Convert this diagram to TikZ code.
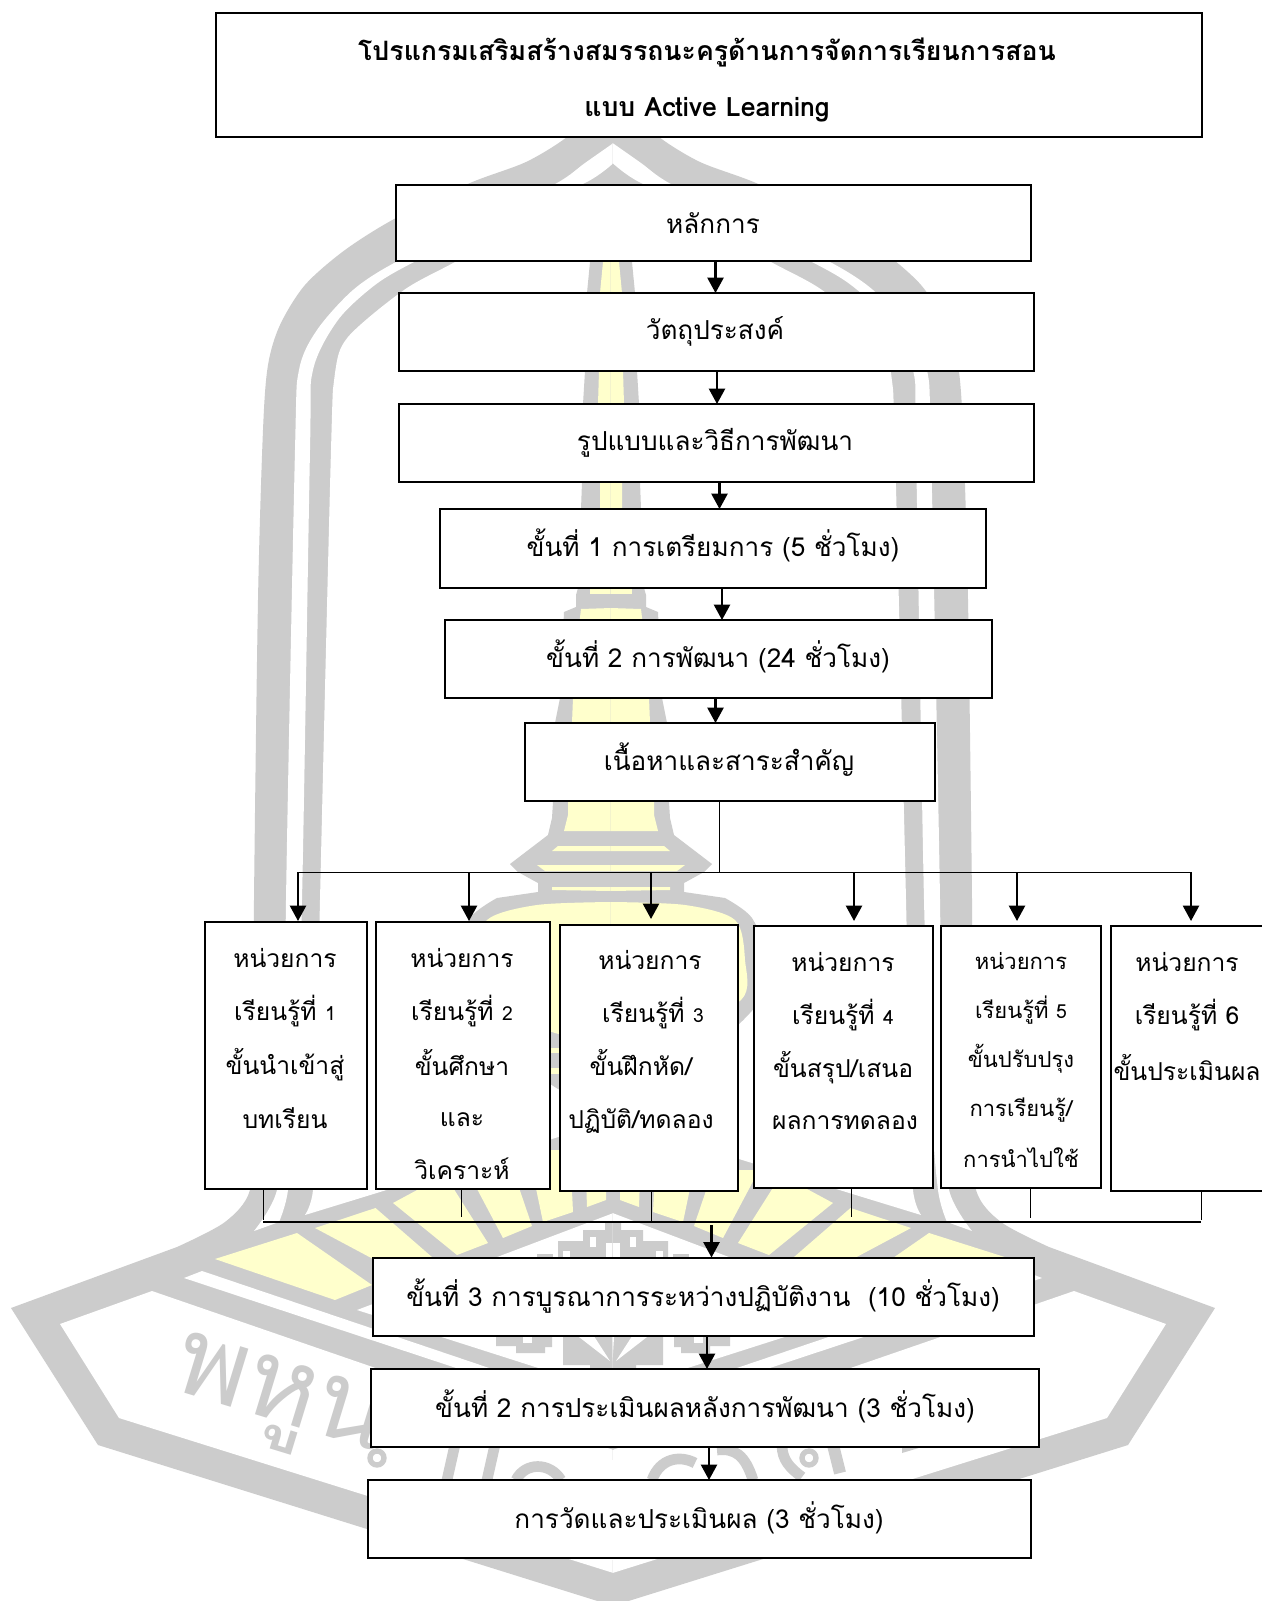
\documentclass[tikz,border=0pt]{standalone}
\usepackage{fontspec}
\setmainfont[Script=Thai]{Loma}
\usetikzlibrary{arrows.meta,fit}
\definecolor{wmgray}{HTML}{CCCCCC}
\definecolor{wmyellow}{HTML}{FFFFCC}
\newcommand\bothsides[2]{#2\begin{scope}[cm={-1,0,0,1,(#1,0)}]#2\end{scope}}
\newcommand\bx[5]{\node[boxnode,fit={(#2,#3)(#4,#5)}] (#1) {};}
\newcommand\tx[4]{\node[textnode] (#1) at (#2,#3) {#4};}
\newcommand\mx[4]{\node[textnode,maintext] (#1) at (#2,#3) {#4};}
\newcommand\nm[1]{{\fontsize{14.5}{17}\selectfont #1}}
\tikzset{
  boxnode/.style={draw=black,fill=white,line width=1.5pt,inner sep=0pt,outer sep=0pt,rectangle},
  textnode/.style={inner sep=0pt,font=\fontsize{18.5}{22}\selectfont,text=black,align=center},
  maintext/.style={font=\fontsize{19.6}{23}\selectfont},
  titletext/.style={font=\fontsize{20}{24}\selectfont\bfseries},
  smalltext/.style={font=\fontsize{16.5}{20}\selectfont},
  arr/.style={line width=1.7pt,-{Triangle[width=12pt,length=11.5pt]}},
  thinline/.style={line width=0.7pt,draw=black},
  frag/.style={draw=wmgray,line width=8pt},
}
\begin{document}
\begin{tikzpicture}[x=0.75pt,y=-0.75pt]
\useasboundingbox (0,0) rectangle (1262,1601);
\clip (0,0) rectangle (1262,1601);
\fill[white] (0,0) rectangle (1262,1601);
% ---------- watermark seal: arch, hexagon
\bothsides{1226}{
 \fill[wmgray] (613.5,95) -- plot[smooth] coordinates {(590,112)(567,137)(526,162)(470,183)(396,218)(345,250)(305,285)(280,325)(268,365)(263,430)(258,600)(254,900)(254,1000)(254,1120)(250,1190)(225,1222)(177,1247)}
   -- (11,1308) -- (98,1445) -- (613.5,1606) -- cycle;
 \fill[white] plot[smooth] coordinates {(613.5,143)(585,163)(557,183)(480,222)(396,262)(353,290)(317,330)(299,370)(295,450)(286,900)(285,1100)(277,1190)(254,1231)}
   -- plot[smooth] coordinates {(279,1222)(288,1190)(295,1100)(302,900)(310,450)(313,370)(338,320)(375,285)(414,262)(500,220)(585,183)(613.5,163)} -- cycle;
 \fill[white] plot[smooth] coordinates {(613.5,200)(520,225)(455,262)(404,290)(348,337)(335,373)(331,450)(320,900)(316,1100)(313,1190)(305,1215)}
   -- (380,1192) -- (613.5,1120) -- cycle;
 % yellow rays
 \fill[wmyellow] (215,1259) -- (297,1233) -- (372,1285) -- (335,1300) -- cycle;
 \fill[wmyellow] (315,1228) -- (375.5,1208) -- (440,1264) -- (375,1260) -- cycle;
 \fill[wmyellow] (393,1203) -- (445,1175) -- (488,1243) -- (457,1255) -- cycle;
 \fill[wmyellow] (467,1170) -- (513,1170) -- (532,1226) -- (503,1238) -- cycle;
 \fill[wmyellow] (528,1150) -- (570,1150) -- (573,1212) -- (543,1222) -- cycle;
 \fill[wmyellow] (585,1150) -- (606,1150) -- (606,1200) -- (587,1207) -- cycle;
 % white apex, strips, hexagon interior
 \fill[white] (613.5,1213) -- (357,1310) -- (613.5,1392) -- cycle;
 \fill[white] (184,1278) -- (202,1271) -- (613.5,1410) -- (613.5,1420) -- cycle;
 \fill[white] (60,1324) -- (152,1291) -- (613.5,1450) -- (613.5,1573) -- (119,1418) -- cycle;
 % emblem
 \fill[wmgray] (613.5,1223) -- (605,1223) -- (605,1230) -- (583,1230) -- (583,1241) -- (558,1241) -- (558,1258) -- (613.5,1258) -- cycle;
 \fill[wmgray] (537,1254) rectangle (553,1258);
 \fill[white] (606,1243) rectangle (613.5,1258);
 \fill[white] (590,1237) rectangle (596,1247);
 \fill[white] (563,1251) rectangle (570,1258);
 \fill[wmgray] (487,1330) -- (552,1330) -- (552,1347) -- (545,1347) -- (545,1353) -- (516,1353) -- (516,1346) -- (496,1346) -- (496,1330) -- cycle;
 \fill[white] (523,1330) rectangle (532,1343);
 \fill[wmgray] (563,1330) -- (613.5,1330) -- (613.5,1368) -- (590,1368) -- (590,1365) -- (563,1365) -- cycle;
 \fill[white] (570,1330) -- (590,1330) -- (610,1361) -- cycle;
 \fill[white] (611.5,1330) -- (613.5,1330) -- (613.5,1361) -- cycle;
}
\fill[white] (603,1460) rectangle (623,1560);
% ---------- fragments of the seal's lettering seen between the lower boxes
\draw[frag,line width=4pt] (377,1458) circle[radius=7];
\draw[frag] (456,1440) -- (447,1480);
\draw[frag] (496,1440) -- (487,1480);
\draw[frag] (516,1480) .. controls (525,1462) and (550,1462) .. (561,1480);
\draw[frag] (652,1480) .. controls (660,1458) and (680,1455) .. (695,1463);
\draw[frag] (717,1450) .. controls (735,1448) and (745,1455) .. (753,1480);
\draw[frag] (782,1445) .. controls (782,1460) and (790,1468) .. (802,1477);
\draw[frag,line width=4pt] (809,1458) circle[radius=7];
\draw[frag,line width=9pt] (833,1445) -- (840,1473);
\fill[wmgray] (902,1447) -- (922,1447) -- (902,1453) -- cycle;
\node[text=wmgray,rotate=-17,inner sep=0pt,font=\fontsize{82}{88}\selectfont] (motto) at (279,1405) {พหูน};
% ---------- stupa
\bothsides{1222}{
 \fill[wmgray] (611.5,250) -- (590,262) -- (587,293) -- (585,371) -- (583,404) -- (582,482) -- (581,509) -- (578,588) -- (576,595) -- (576,607) -- (564,612) -- (560,698) -- (555,723) -- (553,802) -- (552,818) -- (548,835) -- (510,864) -- (518,872) -- (538,883) -- (538,892) -- plot[smooth] coordinates {(497,898)(470,918)(455,960)(462,1000)(500,1040)(560,1090)(611.5,1095)} -- cycle;
 \fill[wmyellow] (611.5,258) -- (603,262) -- (600,293) -- (599,371) -- (598,404) -- (600,482) -- (600,588) -- (611.5,588) -- cycle;
 \fill[wmyellow] (590,588) rectangle (611.5,594);
 \fill[wmyellow] (611.5,608) -- (581,609) -- (575,660) -- (573,698) -- (572,723) -- (568,802) -- (568,815) -- (564,831) -- (611.5,831) -- cycle;
 \fill[wmyellow] (558,846) -- (611.5,846) -- (611.5,851) -- (552,851) -- cycle;
 \fill[wmyellow] (537,865) -- (611.5,865) -- (611.5,871) -- (545,871) -- cycle;
 \fill[wmyellow] (552,887) -- (611.5,887) -- (611.5,891) -- (552,890) -- cycle;
 \fill[wmyellow] plot[smooth] coordinates {(611.5,902)(537,905)(487,920)(477,960)(481,1000)(555,1033)(611.5,1040)} -- cycle;
 \fill[wmyellow] (540,1048) rectangle (611.5,1053);
 \fill[wmyellow] (540,1068) rectangle (611.5,1074);
}
% ---------- boxes
\bx{title}{215.5}{13}{1202}{137}
\bx{b1}{396}{185}{1031}{261.5}
\bx{b2}{399}{293}{1033.5}{371}
\bx{b3}{399}{404}{1033.5}{482}
\bx{b4}{439.5}{509}{986}{587.5}
\bx{b5}{445}{620}{991.5}{698}
\bx{b6}{525}{723}{935}{801}
\bx{u1}{204.5}{922}{367}{1188.5}
\bx{u2}{376}{922}{550}{1188.5}
\bx{u3}{559.5}{924.5}{738}{1190.5}
\bx{u4}{754}{926}{933}{1188}
\bx{u5}{941}{926}{1100.5}{1188}
\bx{u6}{1111}{926}{1275}{1191}
\bx{c1}{372.5}{1257.5}{1033.5}{1336}
\bx{c2}{371}{1369}{1039}{1447}
\bx{c3}{368}{1480}{1031}{1558}
% ---------- texts
\node[textnode,titletext] (t0a) at (707,52) {โปรแกรมเสริมสร้างสมรรถนะครูด้านการจัดการเรียนการสอน};
\node[textnode,titletext] (t0b) at (707,110) {แบบ Active Learning};
\mx{t1}{713}{223}{หลักการ}
\mx{t2}{715}{331}{วัตถุประสงค์}
\mx{t3}{715}{443}{รูปแบบและวิธีการพัฒนา}
\mx{t4}{713}{545}{ขั้นที่ 1 การเตรียมการ (5 ชั่วโมง)}
\mx{t5}{718}{656}{ขั้นที่ 2 การพัฒนา (24 ชั่วโมง)}
\mx{t6}{729}{760}{เนื้อหาและสาระสำคัญ}
\tx{u1a}{285}{958}{หน่วยการ}
\tx{u1b}{285}{1011}{เรียนรู้ที่ \nm{1}}
\tx{u1c}{285}{1065}{ขั้นนำเข้าสู่}
\tx{u1d}{285}{1118}{บทเรียน}
\tx{u2a}{462}{958}{หน่วยการ}
\tx{u2b}{462}{1011}{เรียนรู้ที่ \nm{2}}
\tx{u2c}{462}{1062}{ขั้นศึกษา}
\tx{u2d}{462}{1120}{และ}
\tx{u2e}{462}{1169}{วิเคราะห์}
\tx{u3a}{650}{960}{หน่วยการ}
\tx{u3b}{653}{1013}{เรียนรู้ที่ \nm{3}}
\tx{u3c}{641}{1062}{ขั้นฝึกหัด/}
\tx{u3d}{641}{1121}{ปฏิบัติ/ทดลอง}
\tx{u4a}{843}{962}{หน่วยการ}
\tx{u4b}{843}{1015}{เรียนรู้ที่ \nm{4}}
\tx{u4c}{843}{1068}{ขั้นสรุป/เสนอ}
\tx{u4d}{845}{1123}{ผลการทดลอง}
\node[textnode,smalltext] (u5a) at (1021,961) {หน่วยการ};
\node[textnode,smalltext] (u5b) at (1021,1010) {เรียนรู้ที่ \nm{5}};
\node[textnode,smalltext] (u5c) at (1021,1059) {ขั้นปรับปรุง};
\node[textnode,smalltext] (u5d) at (1021,1110) {การเรียนรู้/};
\node[textnode,smalltext] (u5e) at (1021,1158) {การนำไปใช้};
\tx{u6a}{1187}{962}{หน่วยการ}
\tx{u6b}{1187}{1015}{เรียนรู้ที่ 6}
\tx{u6c}{1187}{1067}{ขั้นประเมินผล}
\mx{t7}{703}{1296}{ขั้นที่ 3 การบูรณาการระหว่างปฏิบัติงาน~~(10 ชั่วโมง)}
\mx{t8}{705}{1406}{ขั้นที่ 2 การประเมินผลหลังการพัฒนา (3 ชั่วโมง)}
\mx{t9}{699}{1518}{การวัดและประเมินผล (3 ชั่วโมง)}
% ---------- vertical connectors between the stacked boxes
\coordinate (a1) at (715.5,0); \coordinate (a2) at (717,0); \coordinate (a3) at (719.5,0);
\coordinate (a4) at (722,0); \coordinate (a5) at (715.5,0);
\draw[arr] (b1.south -| a1) -- (b2.north -| a1);
\draw[arr] (b2.south -| a2) -- (b3.north -| a2);
\draw[arr] (b3.south -| a3) -- (b4.north -| a3);
\draw[arr] (b4.south -| a4) -- (b5.north -| a4);
\draw[arr] (b5.south -| a5) -- (b6.north -| a5);
% ---------- upper bus
\coordinate (busT) at (719,872);
\coordinate (busL) at (298,872);
\coordinate (busR) at (1191,872);
\draw[thinline] (b6.south -| busT) -- (busT);
\draw[thinline] (busL) -- (busR);
\coordinate (d1) at (298,872);  \coordinate (e1) at (298,921);
\coordinate (d2) at (469,872);  \coordinate (e2) at (469,921);
\coordinate (d3) at (651,872);  \coordinate (e3) at (651,919);
\coordinate (d4) at (854,872);  \coordinate (e4) at (854,921);
\coordinate (d5) at (1017,872); \coordinate (e5) at (1017,921);
\coordinate (d6) at (1191,872); \coordinate (e6) at (1191,921);
\foreach \i in {1,...,6}{\draw[arr] (d\i) -- (e\i);}
% ---------- lower bus
\coordinate (busA) at (263,1222);
\coordinate (busB) at (1201,1222);
\draw[thinline,line width=0.9pt] (busA) -- (busB);
\coordinate (f1) at (263,1220); \coordinate (f2) at (461,1217); \coordinate (f3) at (651,1222);
\coordinate (f4) at (851,1217); \coordinate (f5) at (1030,1218); \coordinate (f6) at (1201,1220);
\draw[thinline] (u1.south -| f1) -- (f1);
\draw[thinline] (u2.south -| f2) -- (f2);
\draw[thinline] (u3.south -| f3) -- (f3);
\draw[thinline] (u4.south -| f4) -- (f4);
\draw[thinline] (u5.south -| f5) -- (f5);
\draw[thinline] (u6.south -| f6) -- (f6);
\coordinate (g1) at (711.5,1225);
\draw[arr] (g1) -- (c1.north -| g1);
\coordinate (g2) at (707,0); \coordinate (g3) at (709,0);
\draw[arr] (c1.south -| g2) -- (c2.north -| g2);
\draw[arr] (c2.south -| g3) -- (c3.north -| g3);
\end{tikzpicture}
\end{document}
